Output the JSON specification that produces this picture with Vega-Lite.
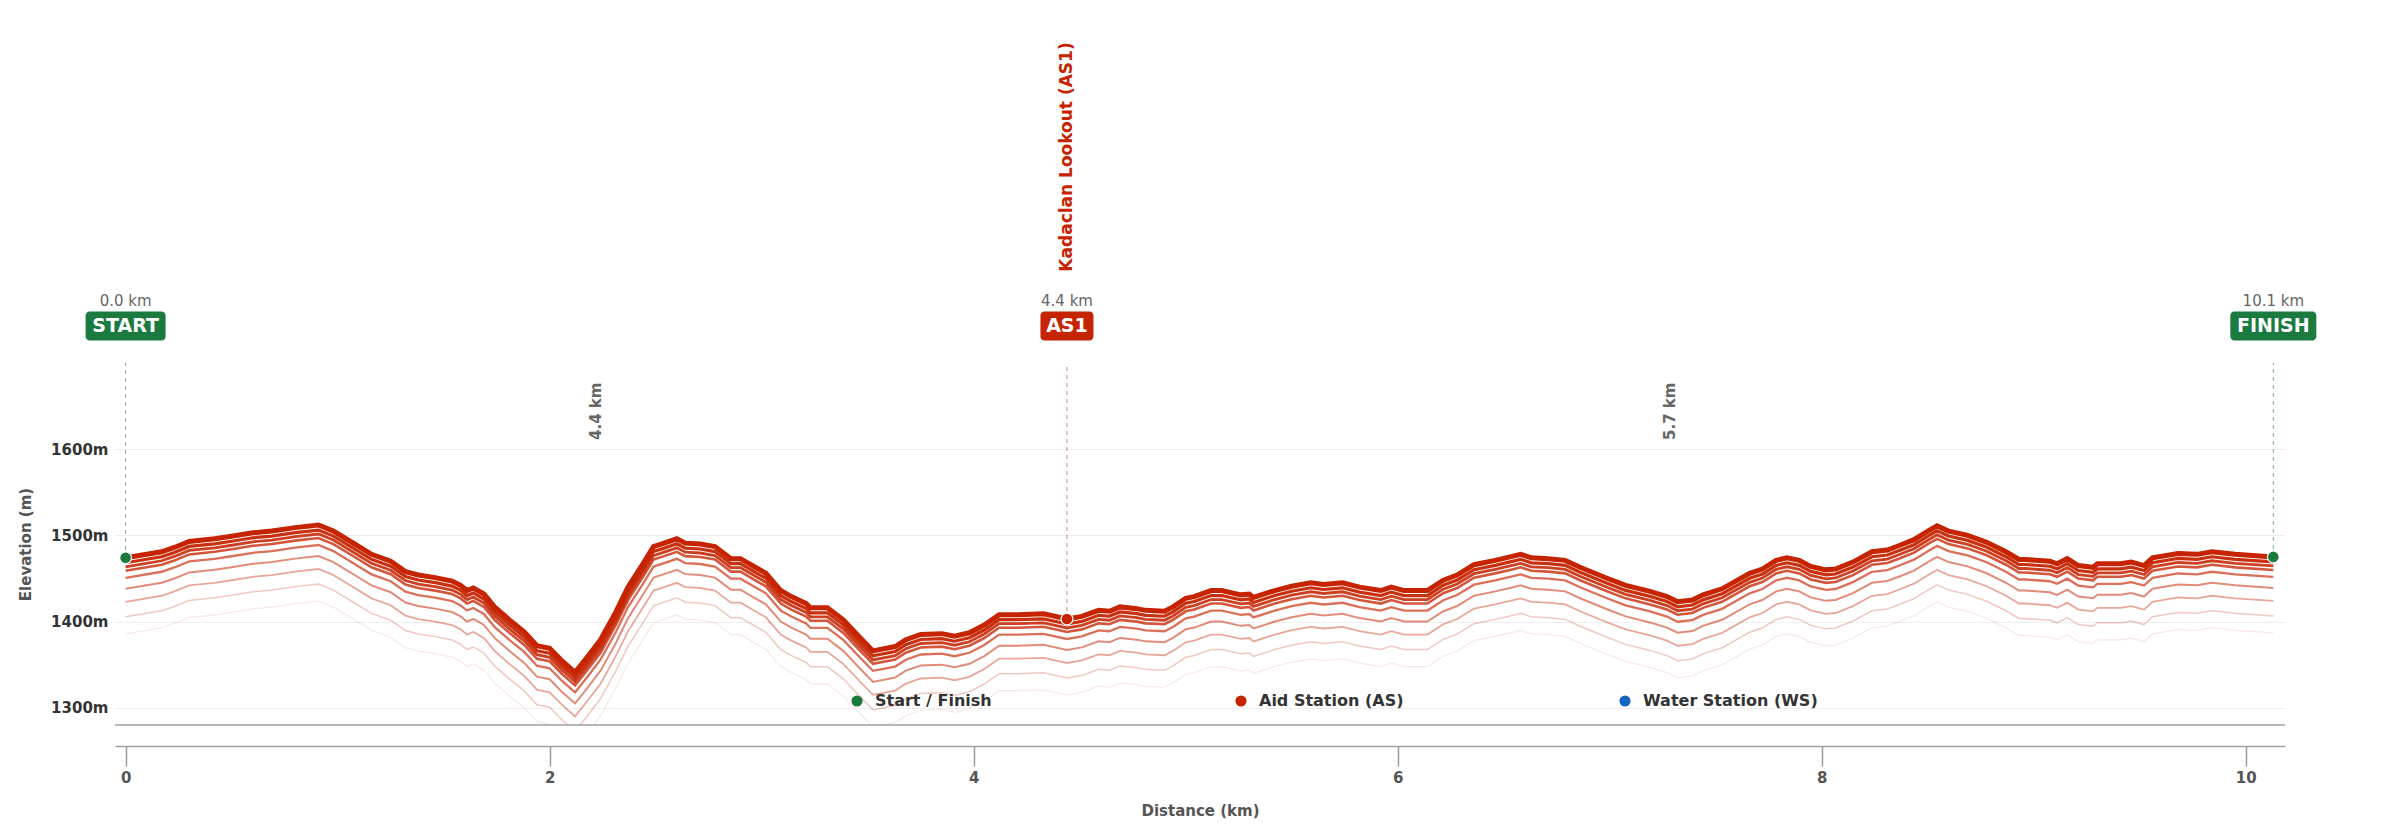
{
  "$schema": "https://vega.github.io/schema/vega-lite/v6.json",
  "width": 2170,
  "height": 362,
  "autosize": {"type": "none"},
  "padding": {"left": 115, "top": 363, "right": 115, "bottom": 100},
  "background": "white",
  "config": {
    "font": "DejaVu Sans",
    "view": {"stroke": null},
    "axis": {"labelFont": "DejaVu Sans", "titleFont": "DejaVu Sans"}
  },
  "datasets": {
    "profile": [
      {"km": 0, "ele": 1474}, {"km": 0.17, "ele": 1481}, {"km": 0.23, "ele": 1486}, {"km": 0.3, "ele": 1493},
      {"km": 0.42, "ele": 1496}, {"km": 0.5, "ele": 1499}, {"km": 0.6, "ele": 1503}, {"km": 0.69, "ele": 1505},
      {"km": 0.8, "ele": 1509}, {"km": 0.91, "ele": 1512}, {"km": 0.98, "ele": 1505}, {"km": 1.08, "ele": 1490},
      {"km": 1.16, "ele": 1478}, {"km": 1.25, "ele": 1470}, {"km": 1.32, "ele": 1458}, {"km": 1.38, "ele": 1454},
      {"km": 1.46, "ele": 1451}, {"km": 1.54, "ele": 1447}, {"km": 1.58, "ele": 1442}, {"km": 1.61, "ele": 1436},
      {"km": 1.64, "ele": 1439}, {"km": 1.69, "ele": 1432}, {"km": 1.74, "ele": 1417}, {"km": 1.81, "ele": 1402},
      {"km": 1.88, "ele": 1388}, {"km": 1.94, "ele": 1372}, {"km": 2.0, "ele": 1369}, {"km": 2.06, "ele": 1354},
      {"km": 2.12, "ele": 1341}, {"km": 2.175, "ele": 1358}, {"km": 2.24, "ele": 1379}, {"km": 2.31, "ele": 1410},
      {"km": 2.37, "ele": 1440}, {"km": 2.44, "ele": 1467}, {"km": 2.49, "ele": 1487}, {"km": 2.54, "ele": 1491},
      {"km": 2.6, "ele": 1496}, {"km": 2.64, "ele": 1491}, {"km": 2.71, "ele": 1490}, {"km": 2.78, "ele": 1487},
      {"km": 2.855, "ele": 1473}, {"km": 2.9, "ele": 1473}, {"km": 2.97, "ele": 1463}, {"km": 3.02, "ele": 1456},
      {"km": 3.09, "ele": 1436}, {"km": 3.14, "ele": 1429}, {"km": 3.21, "ele": 1421}, {"km": 3.23, "ele": 1416},
      {"km": 3.31, "ele": 1416}, {"km": 3.385, "ele": 1402}, {"km": 3.45, "ele": 1385}, {"km": 3.525, "ele": 1366},
      {"km": 3.63, "ele": 1371}, {"km": 3.68, "ele": 1379}, {"km": 3.75, "ele": 1385}, {"km": 3.85, "ele": 1386},
      {"km": 3.91, "ele": 1383}, {"km": 3.98, "ele": 1387}, {"km": 4.05, "ele": 1396}, {"km": 4.12, "ele": 1408},
      {"km": 4.21, "ele": 1408}, {"km": 4.33, "ele": 1409}, {"km": 4.44, "ele": 1403}, {"km": 4.51, "ele": 1406},
      {"km": 4.59, "ele": 1413}, {"km": 4.64, "ele": 1412}, {"km": 4.69, "ele": 1417}, {"km": 4.77, "ele": 1415},
      {"km": 4.81, "ele": 1413}, {"km": 4.9, "ele": 1412}, {"km": 4.94, "ele": 1417}, {"km": 5.0, "ele": 1427},
      {"km": 5.04, "ele": 1429}, {"km": 5.12, "ele": 1436}, {"km": 5.17, "ele": 1436}, {"km": 5.26, "ele": 1431},
      {"km": 5.3, "ele": 1432}, {"km": 5.32, "ele": 1428}, {"km": 5.42, "ele": 1436}, {"km": 5.5, "ele": 1441},
      {"km": 5.59, "ele": 1445}, {"km": 5.65, "ele": 1443}, {"km": 5.74, "ele": 1445}, {"km": 5.82, "ele": 1440},
      {"km": 5.92, "ele": 1436}, {"km": 5.97, "ele": 1440}, {"km": 6.03, "ele": 1436}, {"km": 6.14, "ele": 1436},
      {"km": 6.215, "ele": 1448}, {"km": 6.28, "ele": 1454}, {"km": 6.36, "ele": 1466}, {"km": 6.46, "ele": 1471},
      {"km": 6.53, "ele": 1475}, {"km": 6.58, "ele": 1478}, {"km": 6.63, "ele": 1474}, {"km": 6.71, "ele": 1473},
      {"km": 6.79, "ele": 1471}, {"km": 6.86, "ele": 1463}, {"km": 6.99, "ele": 1450}, {"km": 7.075, "ele": 1442},
      {"km": 7.19, "ele": 1435}, {"km": 7.27, "ele": 1429}, {"km": 7.32, "ele": 1423}, {"km": 7.39, "ele": 1425},
      {"km": 7.44, "ele": 1431}, {"km": 7.53, "ele": 1438}, {"km": 7.66, "ele": 1456}, {"km": 7.72, "ele": 1461},
      {"km": 7.785, "ele": 1471}, {"km": 7.836, "ele": 1474}, {"km": 7.894, "ele": 1471}, {"km": 7.948, "ele": 1464},
      {"km": 8.02, "ele": 1460}, {"km": 8.065, "ele": 1461}, {"km": 8.147, "ele": 1469}, {"km": 8.237, "ele": 1481},
      {"km": 8.309, "ele": 1483}, {"km": 8.363, "ele": 1488}, {"km": 8.435, "ele": 1495}, {"km": 8.508, "ele": 1506},
      {"km": 8.544, "ele": 1511}, {"km": 8.598, "ele": 1505}, {"km": 8.688, "ele": 1500}, {"km": 8.778, "ele": 1492},
      {"km": 8.869, "ele": 1481}, {"km": 8.93, "ele": 1472}, {"km": 8.96, "ele": 1472}, {"km": 9.076, "ele": 1470},
      {"km": 9.11, "ele": 1467}, {"km": 9.158, "ele": 1473}, {"km": 9.21, "ele": 1465}, {"km": 9.28, "ele": 1463},
      {"km": 9.3, "ele": 1467}, {"km": 9.41, "ele": 1467}, {"km": 9.46, "ele": 1469}, {"km": 9.52, "ele": 1465},
      {"km": 9.56, "ele": 1474}, {"km": 9.68, "ele": 1479}, {"km": 9.77, "ele": 1478}, {"km": 9.84, "ele": 1481},
      {"km": 9.95, "ele": 1478}, {"km": 10.13, "ele": 1475}
    ],
    "stations": [
      {"km": 0, "ele": 1474, "badge": "START", "kmlabel": "0.0 km", "type": "Start / Finish"},
      {"km": 4.44, "ele": 1403, "badge": "AS1", "kmlabel": "4.4 km", "name": "Kadaclan Lookout (AS1)", "type": "Aid Station (AS)"},
      {"km": 10.13, "ele": 1475, "badge": "FINISH", "kmlabel": "10.1 km", "type": "Start / Finish"}
    ],
    "segments": [
      {"km": 2.22, "label": "4.4 km"},
      {"km": 7.285, "label": "5.7 km"}
    ],
    "baseline": [
      {"ele": 1280}
    ]
  },
  "layer": [
    {
      "data": {"name": "profile"},
      "mark": {"type": "line", "clip": true, "color": "#c62300", "opacity": 0.11, "strokeWidth": 1.2, "yOffset": 76},
      "encoding": {
        "x": {
          "field": "km", "type": "quantitative",
          "scale": {"domain": [-0.05, 10.185], "nice": false, "zero": false},
          "axis": {
            "values": [0, 2, 4, 6, 8, 10], "format": "d", "grid": false, "offset": 21,
            "domainColor": "#9e9e9e", "domainWidth": 1.5, "tickColor": "#9e9e9e", "tickWidth": 1.5, "tickSize": 20,
            "labelPadding": 4, "labelFontSize": 15, "labelFontWeight": "bold", "labelColor": "#555",
            "title": "Distance (km)", "titleFontSize": 15, "titleFontWeight": "bold", "titleColor": "#555",
            "titleY": 64, "titleBaseline": "middle"
          }
        },
        "y": {
          "field": "ele", "type": "quantitative",
          "scale": {"domain": [1280, 1700], "nice": false, "zero": false},
          "axis": {
            "values": [1300, 1400, 1500, 1600], "domain": false, "ticks": false,
            "grid": true, "gridColor": "#eeeeee", "gridWidth": 1,
            "labelPadding": 7, "labelFontSize": 15, "labelFontWeight": "bold", "labelColor": "#333",
            "labelExpr": "datum.value + 'm'",
            "title": "Elevation (m)", "titleFontSize": 15, "titleFontWeight": "bold", "titleColor": "#555",
            "titleX": -90, "titleY": 181, "titleBaseline": "middle"
          }
        }
      }
    },
    {
      "data": {"name": "profile"},
      "mark": {"type": "line", "clip": true, "color": "#c62300", "opacity": 0.25, "strokeWidth": 1.5, "yOffset": 59},
      "encoding": {"x": {"field": "km", "type": "quantitative"}, "y": {"field": "ele", "type": "quantitative"}}
    },
    {
      "data": {"name": "profile"},
      "mark": {"type": "line", "clip": true, "color": "#c62300", "opacity": 0.4, "strokeWidth": 1.8, "yOffset": 44},
      "encoding": {"x": {"field": "km", "type": "quantitative"}, "y": {"field": "ele", "type": "quantitative"}}
    },
    {
      "data": {"name": "profile"},
      "mark": {"type": "line", "clip": true, "color": "#c62300", "opacity": 0.53, "strokeWidth": 2, "yOffset": 31},
      "encoding": {"x": {"field": "km", "type": "quantitative"}, "y": {"field": "ele", "type": "quantitative"}}
    },
    {
      "data": {"name": "profile"},
      "mark": {"type": "line", "clip": true, "color": "#c62300", "opacity": 0.65, "strokeWidth": 2.3, "yOffset": 20},
      "encoding": {"x": {"field": "km", "type": "quantitative"}, "y": {"field": "ele", "type": "quantitative"}}
    },
    {
      "data": {"name": "profile"},
      "mark": {"type": "line", "clip": true, "color": "#c62300", "opacity": 0.77, "strokeWidth": 2.6, "yOffset": 13},
      "encoding": {"x": {"field": "km", "type": "quantitative"}, "y": {"field": "ele", "type": "quantitative"}}
    },
    {
      "data": {"name": "profile"},
      "mark": {"type": "line", "clip": true, "color": "#c62300", "opacity": 0.87, "strokeWidth": 2.8, "yOffset": 9},
      "encoding": {"x": {"field": "km", "type": "quantitative"}, "y": {"field": "ele", "type": "quantitative"}}
    },
    {
      "data": {"name": "profile"},
      "mark": {"type": "line", "clip": true, "color": "#c62300", "opacity": 0.94, "strokeWidth": 3.2, "yOffset": 5},
      "encoding": {"x": {"field": "km", "type": "quantitative"}, "y": {"field": "ele", "type": "quantitative"}}
    },
    {
      "data": {"name": "profile"},
      "mark": {"type": "line", "clip": true, "color": "#c62300", "strokeWidth": 5},
      "encoding": {"x": {"field": "km", "type": "quantitative"}, "y": {"field": "ele", "type": "quantitative"}}
    },
    {
      "data": {"name": "baseline"},
      "mark": {"type": "rule", "color": "#9e9e9e", "strokeWidth": 1.5},
      "encoding": {"y": {"field": "ele", "type": "quantitative"}}
    },
    {
      "data": {"name": "stations"},
      "mark": {"type": "rule", "strokeDash": [4, 4], "strokeWidth": 1, "opacity": 0.6},
      "encoding": {
        "x": {"field": "km", "type": "quantitative"},
        "y": {"field": "ele", "type": "quantitative"},
        "y2": {"datum": 1700},
        "stroke": {"condition": {"test": "datum.type === 'Aid Station (AS)'", "value": "#c62300"}, "value": "#1a7a40"}
      }
    },
    {
      "data": {"name": "stations"},
      "mark": {"type": "point", "filled": true, "shape": "circle", "size": 140, "opacity": 1, "stroke": "white", "strokeWidth": 1.2},
      "encoding": {
        "x": {"field": "km", "type": "quantitative"},
        "y": {"field": "ele", "type": "quantitative"},
        "color": {
          "field": "type", "type": "nominal",
          "scale": {"domain": ["Start / Finish", "Aid Station (AS)", "Water Station (WS)"], "range": ["#1a7a40", "#c62300", "#1565c0"]},
          "legend": {
            "orient": "none", "legendX": 734, "legendY": 330, "direction": "horizontal", "columns": 3,
            "gridAlign": "all", "columnPadding": 183, "title": null, "padding": 0, "labelLimit": 400,
            "symbolType": "circle", "symbolSize": 125, "symbolStrokeWidth": 0, "symbolOpacity": 1,
            "labelFont": "DejaVu Sans", "labelFontSize": 16, "labelFontWeight": "bold", "labelColor": "#333", "labelOffset": 10
          }
        }
      }
    },
    {
      "data": {"name": "stations"},
      "mark": {"type": "rect", "height": 29, "cornerRadius": 4, "width": {"expr": "datum.badge === 'AS1' ? 53 : datum.badge === 'START' ? 80 : 86"}},
      "encoding": {
        "x": {"field": "km", "type": "quantitative"},
        "y": {"datum": 1743, "type": "quantitative"},
        "fill": {"condition": {"test": "datum.type === 'Aid Station (AS)'", "value": "#c62300"}, "value": "#1a7a40"}
      }
    },
    {
      "data": {"name": "stations"},
      "mark": {"type": "text", "color": "white", "fontSize": 19, "fontWeight": "bold", "baseline": "middle", "align": "center"},
      "encoding": {
        "x": {"field": "km", "type": "quantitative"},
        "y": {"datum": 1743, "type": "quantitative"},
        "text": {"field": "badge", "type": "nominal"}
      }
    },
    {
      "data": {"name": "stations"},
      "mark": {"type": "text", "color": "#666", "fontSize": 15, "baseline": "middle", "align": "center"},
      "encoding": {
        "x": {"field": "km", "type": "quantitative"},
        "y": {"datum": 1772, "type": "quantitative"},
        "text": {"field": "kmlabel", "type": "nominal"}
      }
    },
    {
      "data": {"name": "stations"},
      "transform": [{"filter": "isValid(datum.name)"}],
      "mark": {"type": "text", "color": "#c62300", "fontSize": 17, "fontWeight": "bold", "angle": 270, "align": "left", "baseline": "middle"},
      "encoding": {
        "x": {"field": "km", "type": "quantitative"},
        "y": {"datum": 1806, "type": "quantitative"},
        "text": {"field": "name", "type": "nominal"}
      }
    },
    {
      "data": {"name": "segments"},
      "mark": {"type": "text", "color": "#666", "fontSize": 15, "fontWeight": "bold", "angle": 270, "align": "center", "baseline": "middle"},
      "encoding": {
        "x": {"field": "km", "type": "quantitative"},
        "y": {"datum": 1644, "type": "quantitative"},
        "text": {"field": "label", "type": "nominal"}
      }
    }
  ]
}
